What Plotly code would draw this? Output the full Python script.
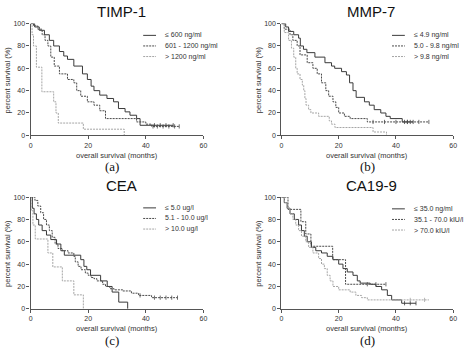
import numpy as np
import plotly.graph_objects as go

W, H = 474, 353

# ---------------- data (time in months, survival in %) ----------------
titles = ["TIMP-1", "MMP-7", "CEA", "CA19-9"]
letters = ["(a)", "(b)", "(c)", "(d)"]
legend_labels = [
    ["≤ 600 ng/ml", "601 - 1200 ng/ml", "> 1200 ng/ml"],
    ["≤ 4.9 ng/ml", "5.0 - 9.8 ng/ml", "> 9.8 ng/ml"],
    ["≤ 5.0 ug/l", "5.1 - 10.0 ug/l", "> 10.0 ug/l"],
    ["≤ 35.0 ng/ml", "35.1 - 70.0 kIU/l", "> 70.0 kIU/l"],
]
x_ticks = [0, 20, 40, 60]
y_ticks = [0, 20, 40, 60, 80, 100]

A1_t = [0, 1.4, 3, 4.8, 6.5, 8, 10, 11.5, 12.8, 15, 18, 19.7, 21, 22, 24, 26.5, 28.8, 30.5, 32.8, 34.5, 36.8, 38, 49.5]
A1_s = [100, 97, 94, 90, 85, 80, 75, 71, 68, 62, 55, 50, 44, 40, 36, 33, 30, 24, 21, 18, 15, 9, 9]
A1_c = [43, 45, 47, 49.5]
A2_t = [0, 1, 2.5, 4, 5, 6, 7, 8.2, 10, 12.8, 15, 16, 17.4, 19.7, 22, 24, 26, 36.8, 40, 42, 51.6]
A2_s = [100, 98, 95, 90, 85, 80, 70, 62, 55, 50, 47, 40, 35, 30, 27, 22, 15, 12, 10, 8, 8]
A2_c = [42.5, 44, 46, 48, 50, 51.6]
A3_t = [0, 0.5, 1, 2, 3.9, 8, 8.8, 9.6, 18.3, 32.5]
A3_s = [100, 90, 80, 61, 39, 30, 20, 11, 5.5, 0]
A3_c = []

B1_t = [0, 1.5, 2.5, 4.3, 6, 6.6, 7.7, 8.9, 11.7, 15.2, 17.5, 18.6, 21, 22.7, 23.8, 25, 26.1, 29, 30.7, 32.4, 34.7, 36.5, 38, 42.2, 46]
B1_s = [100, 97, 93, 90, 87, 80, 77, 74, 70, 65, 62, 60, 57, 54, 47, 40, 34, 30, 27, 23, 20, 17, 15, 12, 12]
B1_c = [43, 44, 45, 46]
B2_t = [0, 1, 3, 4, 5.5, 6.5, 9, 11, 12.5, 14, 15.5, 16.5, 18, 19, 20, 22, 24, 30, 51.5]
B2_s = [100, 95, 90, 85, 80, 72, 65, 60, 55, 47, 40, 35, 30, 25, 20, 17, 15, 12, 12]
B2_c = [32, 36, 40, 44, 48, 51.5]
B3_t = [0, 1, 2.5, 3.5, 4.3, 5, 5.5, 6.5, 7.3, 7.8, 8.2, 8.6, 9.5, 10.3, 13, 16.7, 17.5, 18.7, 32, 36.7]
B3_s = [100, 92, 85, 78, 70, 60, 55, 50, 45, 40, 33, 27, 23, 20, 17, 13, 10, 7, 3, 0]
B3_c = []

C1_t = [0, 0.6, 1.2, 2, 2.8, 4, 5.5, 7, 9, 10.5, 11.7, 17.4, 18.5, 19.5, 20.8, 24.3, 26.6, 28.3, 30.6, 33.7]
C1_s = [100, 90, 85, 80, 75, 70, 66, 62, 58, 52, 48, 44, 38, 35, 30, 25, 20, 15, 6, 0]
C1_c = []
C2_t = [0, 1.5, 2.5, 3.5, 4.5, 5.5, 6.5, 7.5, 8.5, 9.5, 11, 13, 15, 15.5, 16.5, 17.5, 19, 20, 21, 22, 23, 25, 26, 27.5, 29, 32, 35, 37.5, 42, 51]
C2_s = [100, 97, 92, 86, 80, 75, 70, 64, 58, 54, 52, 50, 47, 42, 38, 35, 32, 30, 28, 27, 25, 22, 20, 18, 17, 16, 14, 12, 10, 10]
C2_c = [38, 43, 45, 47, 49, 51]
C3_t = [0, 0.2, 0.8, 1.6, 6, 7.7, 11, 15, 18.3]
C3_s = [100, 88, 75, 62.5, 50, 37.5, 25, 12.5, 0]
C3_c = []

D1_t = [0, 1, 2, 3, 4.5, 6, 7, 8, 9, 10.5, 12, 14, 16, 18, 20, 21.5, 23, 25, 26.5, 27.5, 31, 33, 35, 37, 38.5, 42, 47]
D1_s = [100, 95, 90, 85, 80, 75, 70, 65, 60, 55, 52, 50, 47, 44, 40, 36, 33, 30, 25, 23, 22, 20, 17, 12, 8, 5, 5]
D1_c = [43, 45, 47]
D2_t = [0, 2.3, 6.8, 8.5, 10.3, 17.9, 22.4, 36.5]
D2_s = [100, 89, 78, 67, 56, 44, 22, 22]
D2_c = [30, 33, 36.5]
D3_t = [0, 1, 2, 3, 4, 5, 6, 7, 8.5, 9.5, 11, 13, 14, 15, 16, 17, 18, 20, 24, 26, 28, 30, 51.5]
D3_s = [100, 95, 90, 85, 80, 75, 70, 65, 60, 55, 50, 45, 40, 36, 30, 25, 20, 17, 15, 12, 10, 8, 8]
D3_c = [45, 50]

panels_data = [
    [(A1_t, A1_s, A1_c), (A2_t, A2_s, A2_c), (A3_t, A3_s, A3_c)],
    [(B1_t, B1_s, B1_c), (B2_t, B2_s, B2_c), (B3_t, B3_s, B3_c)],
    [(C1_t, C1_s, C1_c), (C2_t, C2_s, C2_c), (C3_t, C3_s, C3_c)],
    [(D1_t, D1_s, D1_c), (D2_t, D2_s, D2_c), (D3_t, D3_s, D3_c)],
]

# ---------------- styling / layout (pixels) ----------------
styles = [
    dict(color="#3a3a3a", dash="solid"),
    dict(color="#4a4a4a", dash="2px,1px"),
    dict(color="#a5a5a5", dash="2px,1px"),
]
# plot area boxes: left, right, top, bottom (px)
boxes = [(29, 204, 20, 134), (283, 457, 20, 134), (29, 204, 197, 311), (283, 457, 197, 311)]
title_pos = [(121, 8), (374, 8), (121, 185), (374, 185)]
xtitle_pos = [(116, 155), (370, 155), (116, 331), (370, 331)]
letter_pos = [(111, 166), (370, 166), (111, 343), (370, 343)]
ytitle_x = [6, 260, 6, 260]
legend_pos = [(143, 32), (395, 32), (143, 208), (395, 209)]  # line start x, first row y
legend_dy = 10.8

def px(x):
    return x / W

def py(y):
    return 1 - y / H

FONT = "Liberation Sans, Arial, sans-serif"
fig = go.Figure()
annotations = []
shapes = []

for i in range(4):
    ax = "" if i == 0 else str(i + 1)
    L, R, T, B = boxes[i]
    for j, (t, s, c) in enumerate(panels_data[i]):
        st = styles[j]
        fig.add_trace(go.Scatter(
            x=t, y=s, mode="lines", line=dict(color=st["color"], dash=st["dash"], width=1, shape="hv"),
            xaxis="x" + ax, yaxis="y" + ax, showlegend=False, hoverinfo="skip"))
        if len(c):
            tt = np.array(t)
            ss = np.array(s)
            idx = np.searchsorted(tt, np.array(c), side="right") - 1
            fig.add_trace(go.Scatter(
                x=c, y=ss[idx], mode="markers",
                marker=dict(symbol="line-ns", size=3, line=dict(width=0.8, color=st["color"])),
                xaxis="x" + ax, yaxis="y" + ax, showlegend=False, hoverinfo="skip"))
    axis_common = dict(showline=True, linecolor="#555", linewidth=1.3, ticks="outside",
                       ticklen=3, tickwidth=1.2, tickcolor="#555", showgrid=False, zeroline=False,
                       tickfont=dict(family=FONT, size=7, color="#333"))
    fig.layout["xaxis" + ax] = dict(domain=[px(L), px(R)], range=[0, 60], tickvals=x_ticks,
                                    anchor="y" + ax, **axis_common)
    fig.layout["yaxis" + ax] = dict(domain=[py(B), py(T)], range=[0, 100], tickvals=y_ticks,
                                    anchor="x" + ax, **axis_common)
    annotations.append(dict(text=titles[i], x=px(title_pos[i][0]), y=py(title_pos[i][1]),
                            xref="paper", yref="paper", showarrow=False, xanchor="center", yanchor="middle",
                            font=dict(family=FONT, size=15, color="#111")))
    annotations.append(dict(text="overall survival (months)", x=px(xtitle_pos[i][0]), y=py(xtitle_pos[i][1]),
                            xref="paper", yref="paper", showarrow=False, xanchor="center", yanchor="middle",
                            font=dict(family=FONT, size=7.5, color="#333")))
    annotations.append(dict(text=letters[i], x=px(letter_pos[i][0]), y=py(letter_pos[i][1]),
                            xref="paper", yref="paper", showarrow=False, xanchor="center", yanchor="middle",
                            font=dict(family="Liberation Serif, Times New Roman, serif", size=13, color="#111")))
    annotations.append(dict(text="percent survival (%)", x=px(ytitle_x[i]), y=py((T + B) / 2),
                            xref="paper", yref="paper", showarrow=False, xanchor="center", yanchor="middle",
                            textangle=-90, font=dict(family=FONT, size=7.5, color="#333")))
    lx, ly = legend_pos[i]
    for j in range(3):
        yy = ly + j * legend_dy
        st = styles[j]
        shapes.append(dict(type="line", xref="paper", yref="paper", x0=px(lx), x1=px(lx + 13),
                           y0=py(yy), y1=py(yy), line=dict(color=st["color"], dash=st["dash"], width=1)))
        annotations.append(dict(text=legend_labels[i][j], x=px(lx + 20), y=py(yy), xref="paper", yref="paper",
                                showarrow=False, xanchor="left", yanchor="middle",
                                font=dict(family=FONT, size=7, color="#333")))

fig.update_layout(width=W, height=H, margin=dict(l=0, r=0, t=0, b=0), paper_bgcolor="white",
                  plot_bgcolor="white", annotations=annotations, shapes=shapes, showlegend=False)
fig.write_html("out.html")
